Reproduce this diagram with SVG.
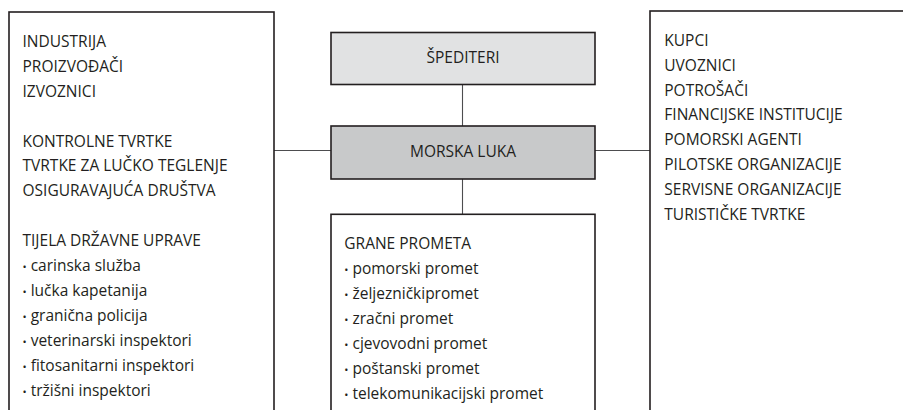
<svg xmlns="http://www.w3.org/2000/svg" width="903" height="410" viewBox="0 0 903 410">
<style>
.box{fill:#ffffff;stroke:#231f20;stroke-width:1.6}
.b1{fill:#e1e2e3;stroke:#231f20;stroke-width:1.6}
.b2{fill:#c8c9ca;stroke:#231f20;stroke-width:1.6}
.ln{stroke:#4d4d4f;stroke-width:1.1;fill:none}
text{font-family:"Open Sans","Liberation Sans",sans-serif;font-size:15.5px;fill:#231f20}
.c{text-anchor:middle}
.bl{font-size:11px}
</style>
<rect width="903" height="410" fill="#ffffff"/>
<g id="connectors">
<line class="ln" x1="462.5" y1="84.5" x2="462.5" y2="126"/>
<line class="ln" x1="462.5" y1="179" x2="462.5" y2="214"/>
<line class="ln" x1="274" y1="150.5" x2="331" y2="150.5"/>
<line class="ln" x1="595" y1="150.5" x2="650" y2="150.5"/>
</g>
<g id="left">
<rect class="box" x="9" y="12" width="265" height="420"/>
<text x="22.5" y="47.3">INDUSTRIJA</text>
<text x="22.5" y="72.1">PROIZVOĐAČI</text>
<text x="22.5" y="96.9">IZVOZNICI</text>
<text x="22.5" y="146.5">KONTROLNE TVRTKE</text>
<text x="22.5" y="171.3">TVRTKE ZA LUČKO TEGLENJE</text>
<text x="22.5" y="196.1">OSIGURAVAJUĆA DRUŠTVA</text>
<text x="22.5" y="245.7">TIJELA DRŽAVNE UPRAVE</text>
<text x="22.5" y="270.7"><tspan class="bl">•</tspan> carinska služba</text>
<text x="22.5" y="295.7"><tspan class="bl">•</tspan> lučka kapetanija</text>
<text x="22.5" y="320.7"><tspan class="bl">•</tspan> granična policija</text>
<text x="22.5" y="345.7"><tspan class="bl">•</tspan> veterinarski inspektori</text>
<text x="22.5" y="370.7"><tspan class="bl">•</tspan> fitosanitarni inspektori</text>
<text x="22.5" y="395.7"><tspan class="bl">•</tspan> tržišni inspektori</text>
</g>
<g id="spediteri">
<rect class="b1" x="331" y="32.5" width="264" height="52"/>
<text class="c" x="463" y="63">ŠPEDITERI</text>
</g>
<g id="morska-luka">
<rect class="b2" x="331" y="126" width="264" height="53"/>
<text class="c" x="463" y="156.5">MORSKA LUKA</text>
</g>
<g id="grane-prometa">
<rect class="box" x="331" y="214.3" width="264" height="220"/>
<text x="344.3" y="249">GRANE PROMETA</text>
<text x="344.3" y="274"><tspan class="bl">•</tspan> pomorski promet</text>
<text x="344.3" y="298.9"><tspan class="bl">•</tspan> željezničkipromet</text>
<text x="344.3" y="323.8"><tspan class="bl">•</tspan> zračni promet</text>
<text x="344.3" y="348.7"><tspan class="bl">•</tspan> cjevovodni promet</text>
<text x="344.3" y="373.6"><tspan class="bl">•</tspan> poštanski promet</text>
<text x="344.3" y="398.5"><tspan class="bl">•</tspan> telekomunikacijski promet</text>
</g>
<g id="right">
<rect class="box" x="650" y="11" width="300" height="420"/>
<text x="664.3" y="46">KUPCI</text>
<text x="664.3" y="70.8">UVOZNICI</text>
<text x="664.3" y="95.6">POTROŠAČI</text>
<text x="664.3" y="120.4">FINANCIJSKE INSTITUCIJE</text>
<text x="664.3" y="145.2">POMORSKI AGENTI</text>
<text x="664.3" y="170">PILOTSKE ORGANIZACIJE</text>
<text x="664.3" y="194.8">SERVISNE ORGANIZACIJE</text>
<text x="664.3" y="219.6">TURISTIČKE TVRTKE</text>
</g>
</svg>
